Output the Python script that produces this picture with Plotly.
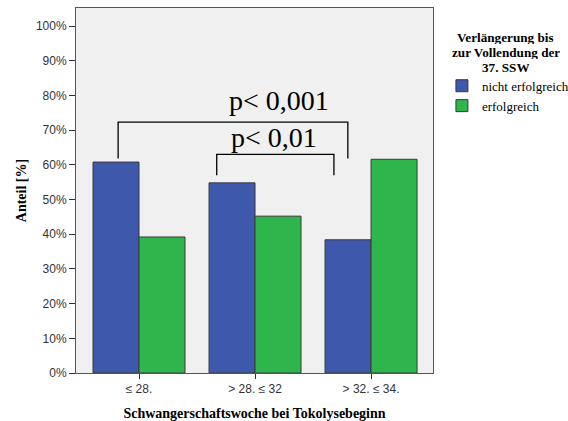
import plotly.graph_objects as go

categories = ["\u2264 28.", "> 28. \u2264 32", "> 32. \u2264 34."]
nicht_erfolgreich = [60.8, 54.8, 38.4]
erfolgreich = [39.2, 45.2, 61.6]
y_ticks = [0, 10, 20, 30, 40, 50, 60, 70, 80, 90, 100]
y_ticklabels = [f"{v}%" for v in y_ticks]
legend_title_lines = ["Verlängerung bis", "zur Vollendung der", "37. SSW"]

BLUE = "#3e58ab"
GREEN = "#2eb64c"
SERIF = "Liberation Serif, Times New Roman, serif"
NARROW = "Liberation Sans Narrow, Arial Narrow, Liberation Sans, sans-serif"

W, H = 568, 421
ML, MR, MT, MB = 76, 135, 8, 48
PW, PH = W - ML - MR, H - MT - MB

fig = go.Figure()
fig.add_trace(go.Bar(x=[0, 1, 2], y=nicht_erfolgreich, name="nicht erfolgreich",
                     marker=dict(color=BLUE, line=dict(color="#3a3a3a", width=1))))
fig.add_trace(go.Bar(x=[0, 1, 2], y=erfolgreich, name="erfolgreich",
                     marker=dict(color=GREEN, line=dict(color="#3a3a3a", width=1))))

# significance brackets (x in category units, y in percent)
brackets = [
    dict(x0=-0.18, x1=1.80, ytop=72.3, ybot=61.8, label="p< 0,001", lx=1.21, ly=78.6),
    dict(x0=0.67, x1=1.68, ytop=63.0, ybot=57.0, label="p< 0,01", lx=1.16, ly=68.0),
]
for b in brackets:
    fig.add_shape(type="path",
                  path=f"M {b['x0']},{b['ybot']} L {b['x0']},{b['ytop']} L {b['x1']},{b['ytop']} L {b['x1']},{b['ybot']}",
                  xref="x", yref="y", line=dict(color="black", width=1.3))
    fig.add_annotation(x=b["lx"], y=b["ly"], text=b["label"], showarrow=False,
                       xref="x", yref="y", font=dict(family=SERIF, size=28, color="black"))

# legend title, one line per annotation for tight line spacing
title_cx = (505.5 - ML) / PW
for i, line in enumerate(legend_title_lines):
    py = 37.0 + 14.8 * i
    fig.add_annotation(x=title_cx, y=(H - MB - py) / PH, xref="paper", yref="paper",
                       xanchor="center", yanchor="middle", text=f"<b>{line}</b>",
                       height=14, showarrow=False, font=dict(family=SERIF, size=13.2, color="black"))

fig.update_layout(
    width=W, height=H,
    margin=dict(l=ML, r=MR, t=MT, b=MB, autoexpand=False),
    paper_bgcolor="white", plot_bgcolor="#f0f0f0",
    barmode="group", bargap=0.207, bargroupgap=0,
    showlegend=True,
    legend=dict(
        font=dict(family=SERIF, size=13, color="black"),
        x=1.025, y=0.828, xanchor="left", yanchor="top",
        bgcolor="rgba(0,0,0,0)", tracegroupgap=0, itemwidth=30,
    ),
    font=dict(family=SERIF, color="black"),
)
fig.update_xaxes(
    range=[-0.543, 2.534], tickmode="array", tickvals=[0, 1, 2], ticktext=categories,
    ticks="outside", ticklen=5, tickcolor="#333", showgrid=False, zeroline=False,
    showline=True, linecolor="#555", mirror=True, linewidth=1, automargin=False,
    tickfont=dict(family=NARROW, size=12, color="#333"),
    title=dict(text="<b>Schwangerschaftswoche bei Tokolysebeginn</b>",
               font=dict(family=SERIF, size=14, color="black")),
)
fig.update_yaxes(
    range=[0, 105.2], tickmode="array", tickvals=y_ticks, ticktext=y_ticklabels,
    ticks="outside", ticklen=6, tickcolor="#333", showgrid=False, zeroline=False,
    showline=True, linecolor="#555", mirror=True, linewidth=1, automargin=True,
    tickfont=dict(family=NARROW, size=12, color="#333"),
    title=dict(text="<b>Anteil [%]</b>", font=dict(family=SERIF, size=14, color="black"), standoff=5),
)

fig.write_html("out.html")
